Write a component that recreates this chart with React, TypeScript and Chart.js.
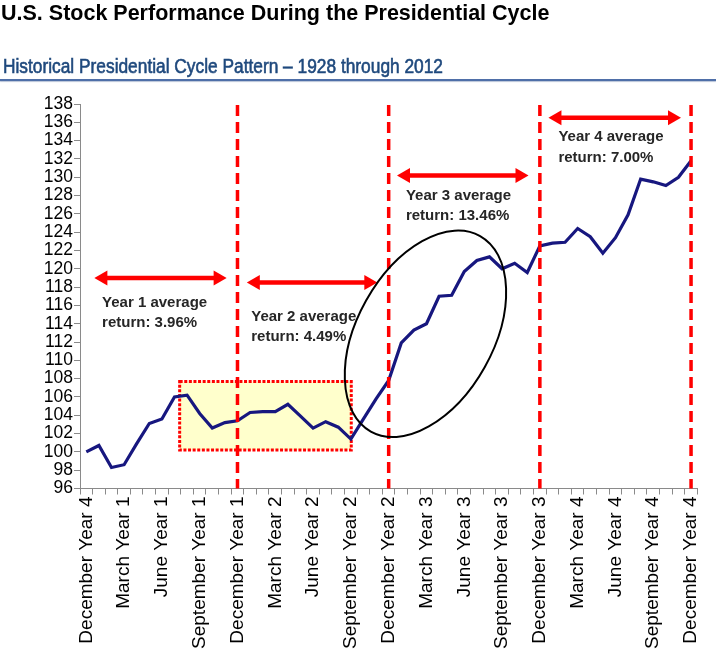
import React, { useEffect, useLayoutEffect, useRef } from "react";
import { Chart, registerables } from "chart.js";

Chart.register(...registerables);

// ---- data ----
const MONTHS = [
  "January", "February", "March", "April", "May", "June",
  "July", "August", "September", "October", "November", "December",
];
const CYCLE_YEARS = [1, 2, 3, 4];
const START_LABEL = "December Year 4";

const categories: string[] = [START_LABEL];
CYCLE_YEARS.forEach((yr) => MONTHS.forEach((m) => categories.push(`${m} Year ${yr}`)));

const cycleValues = [
  100.0,
  100.7, 98.3, 98.6, 100.9, 103.1, 103.6, 106.0, 106.2, 104.2, 102.6, 103.2, 103.4,
  104.3, 104.4, 104.4, 105.2, 103.9, 102.6, 103.3, 102.7, 101.4, 103.6, 105.8, 107.8,
  111.9, 113.3, 114.0, 117.0, 117.1, 119.7, 120.9, 121.3, 120.0, 120.6, 119.6, 122.5,
  122.8, 122.9, 124.4, 123.5, 121.7, 123.4, 125.9, 129.8, 129.5, 129.1, 130.0, 131.8,
];

const Y_MIN = 96;
const Y_MAX = 138;
const Y_STEP = 2;

// year boundaries (category index)
const yearDividers = [12, 24, 36, 48];

// annotations in data units (category index, value)
const yearArrows = [
  { from: 0.64, to: 11.14, value: 118.99 },
  { from: 12.74, to: 23.1, value: 118.5 },
  { from: 24.66, to: 35.1, value: 130.18 },
  { from: 36.68, to: 47.2, value: 136.49 },
];
const yearNotes = [
  { x: 1.25, value: 116.32, lines: ["Year 1 average", "return: 3.96%"] },
  { x: 13.09, value: 114.79, lines: ["Year 2 average", "return: 4.49%"] },
  { x: 25.37, value: 127.99, lines: ["Year 3 average", "return: 13.46%"] },
  { x: 37.47, value: 134.37, lines: ["Year 4 average", "return: 7.00%"] },
];
const highlightBox = { x0: 7.41, x1: 21.03, v0: 100.21, v1: 107.68 };
const circledArea = { x: 26.92, value: 112.9 };

const FONT = '"Liberation Sans", Arial, Helvetica, sans-serif';

const annotationPlugin = {
  id: "cycleAnnotations",
  beforeDatasetsDraw(chart: any) {
    const { ctx, scales } = chart;
    const x = scales.x, y = scales.y;
    const l = x.getPixelForValue(highlightBox.x0);
    const r = x.getPixelForValue(highlightBox.x1);
    const t = y.getPixelForValue(highlightBox.v1);
    const b = y.getPixelForValue(highlightBox.v0);
    ctx.save();
    ctx.fillStyle = "#FFFFCC";
    ctx.fillRect(l, t, r - l, b - t);
    ctx.strokeStyle = "#FF0000";
    ctx.lineWidth = 3;
    ctx.setLineDash([3, 1.6]);
    ctx.strokeRect(l, t, r - l, b - t);
    ctx.restore();
  },
  afterDatasetsDraw(chart: any) {
    const { ctx, scales, chartArea } = chart;
    const x = scales.x, y = scales.y;
    ctx.save();
    // dashed dividers
    ctx.strokeStyle = "#FF0000";
    ctx.lineWidth = 3.5;
    ctx.setLineDash([11, 6]);
    yearDividers.forEach((idx) => {
      const px = x.getPixelForValue(idx);
      ctx.beginPath();
      ctx.moveTo(px, chartArea.top + 1);
      ctx.lineTo(px, chartArea.bottom);
      ctx.stroke();
    });
    ctx.setLineDash([]);
    // arrows
    ctx.fillStyle = "#FF0000";
    yearArrows.forEach((a) => {
      const x0 = x.getPixelForValue(a.from);
      const x1 = x.getPixelForValue(a.to);
      const py = y.getPixelForValue(a.value);
      const head = 13, half = 7.5;
      ctx.lineWidth = 4.5;
      ctx.beginPath();
      ctx.moveTo(x0 + head - 2, py);
      ctx.lineTo(x1 - head + 2, py);
      ctx.stroke();
      ctx.beginPath();
      ctx.moveTo(x0, py);
      ctx.lineTo(x0 + head, py - half);
      ctx.lineTo(x0 + head, py + half);
      ctx.closePath();
      ctx.fill();
      ctx.beginPath();
      ctx.moveTo(x1, py);
      ctx.lineTo(x1 - head, py - half);
      ctx.lineTo(x1 - head, py + half);
      ctx.closePath();
      ctx.fill();
    });
    // notes
    ctx.fillStyle = "#262626";
    ctx.font = `bold 15px ${FONT}`;
    ctx.textAlign = "left";
    ctx.textBaseline = "middle";
    yearNotes.forEach((n) => {
      const px = x.getPixelForValue(n.x);
      const py = y.getPixelForValue(n.value);
      n.lines.forEach((line, i) => ctx.fillText(line, px, py + i * 20.5));
    });
    // hand-drawn style ellipse
    const cx = x.getPixelForValue(circledArea.x);
    const cy = y.getPixelForValue(circledArea.value);
    ctx.strokeStyle = "#000000";
    ctx.lineWidth = 2;
    ctx.beginPath();
    ctx.ellipse(cx, cy, 112, 68, (-60.8 * Math.PI) / 180, 0, Math.PI * 2);
    ctx.stroke();
    ctx.restore();
  },
};

export default function App() {
  const canvasRef = useRef<HTMLCanvasElement | null>(null);
  const subRef = useRef<HTMLSpanElement | null>(null);

  useLayoutEffect(() => {
    const el = subRef.current;
    if (el) {
      el.style.transform = "none";
      const w = el.getBoundingClientRect().width;
      if (w > 0) el.style.transform = `scaleX(${440 / w})`;
    }
  }, []);

  useEffect(() => {
    const canvas = canvasRef.current;
    if (!canvas) return;
    const chart = new Chart(canvas, {
      type: "line",
      data: {
        labels: categories,
        datasets: [
          {
            data: cycleValues,
            borderColor: "#17177F",
            borderWidth: 3.2,
            pointRadius: 0,
            tension: 0,
            fill: false,
          },
        ],
      },
      options: {
        responsive: false,
        animation: false,
        devicePixelRatio: 1,
        layout: { padding: { left: 0, right: 14.5, top: 104, bottom: 0 } },
        plugins: {
          legend: { display: false },
          tooltip: { enabled: false },
          title: { display: false },
        },
        scales: {
          x: {
            type: "category",
            offset: true,
            grid: {
              display: true,
              offset: true,
              drawOnChartArea: false,
              drawTicks: true,
              tickLength: 6,
              color: "#8a8a8a",
            },
            border: { display: true, color: "#8a8a8a", width: 1 },
            ticks: {
              autoSkip: false,
              maxRotation: 90,
              minRotation: 90,
              padding: 2,
              color: "#000000",
              font: { family: FONT, size: 19 },
              callback: (_v: any, i: number) => (i % 3 === 0 ? categories[i] : ""),
            },
            afterFit: (scale: any) => {
              scale.height = 178.5;
            },
          },
          y: {
            min: Y_MIN,
            max: Y_MAX,
            grid: {
              display: true,
              drawOnChartArea: false,
              drawTicks: true,
              tickLength: 6,
              color: "#8a8a8a",
            },
            border: { display: true, color: "#8a8a8a", width: 1 },
            ticks: {
              stepSize: Y_STEP,
              autoSkip: false,
              padding: 1,
              color: "#000000",
              font: { family: FONT, size: 17.5 },
            },
            afterFit: (scale: any) => {
              scale.width = 80;
            },
          },
        },
      },
      plugins: [annotationPlugin],
    });
    return () => chart.destroy();
  }, []);

  return (
    <div
      style={{
        position: "absolute",
        left: 0,
        top: 0,
        width: 716,
        height: 667,
        background: "#ffffff",
        overflow: "hidden",
      }}
    >
      <canvas
        ref={canvasRef}
        width={716}
        height={667}
        style={{ position: "absolute", left: 0, top: 0, width: 716, height: 667 }}
      />
      <div
        style={{
          position: "absolute",
          left: 1,
          top: 1,
          font: `bold 21.5px ${FONT}`,
          lineHeight: "24px",
          color: "#000000",
          whiteSpace: "nowrap",
        }}
      >
        U.S. Stock Performance During the Presidential Cycle
      </div>
      <div
        style={{
          position: "absolute",
          left: 3,
          top: 55,
          font: `20px ${FONT}`,
          lineHeight: "22px",
          color: "#1F497D",
          whiteSpace: "nowrap",
          WebkitTextStroke: "0.6px #1F497D",
        }}
      >
        <span ref={subRef} style={{ display: "inline-block", transformOrigin: "left center" }}>
          Historical Presidential Cycle Pattern – 1928 through 2012
        </span>
      </div>
      <div
        style={{
          position: "absolute",
          left: 0,
          top: 78.5,
          width: 716,
          height: 2,
          background: "#4F6FA8",
          boxShadow: "0 1px 1px #b8c4d8",
        }}
      />
    </div>
  );
}
